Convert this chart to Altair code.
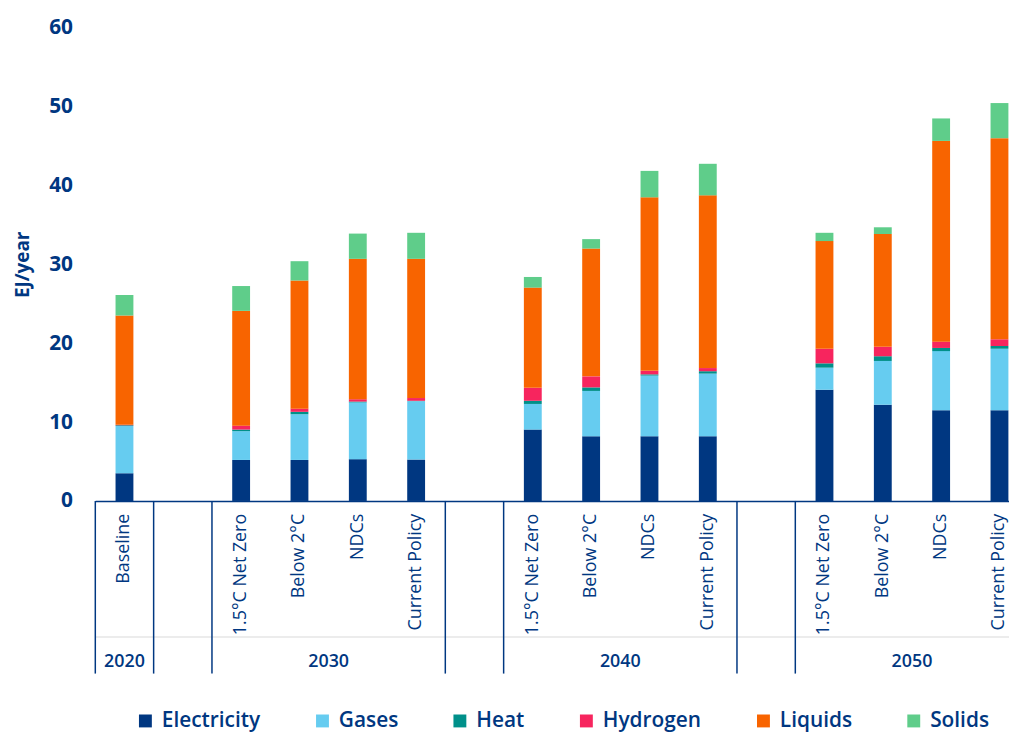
import altair as alt
import pandas as pd

# ---- data -----------------------------------------------------------------
years = ["2020", "2030", "2030", "2030", "2030", "2040", "2040", "2040", "2040",
         "2050", "2050", "2050", "2050"]
scenarios = ["Baseline",
             "1.5°C Net Zero", "Below 2°C", "NDCs", "Current Policy",
             "1.5°C Net Zero", "Below 2°C", "NDCs", "Current Policy",
             "1.5°C Net Zero", "Below 2°C", "NDCs", "Current Policy"]

electricity = [3.5, 5.2, 5.2, 5.3, 5.25, 9.05, 8.2, 8.2, 8.2, 14.1, 12.2, 11.5, 11.5]
gases       = [6.0, 3.65, 5.8, 7.2, 7.4, 3.25, 5.75, 7.7, 7.95, 2.8, 5.55, 7.5, 7.8]
heat        = [0.1, 0.2, 0.3, 0.1, 0.05, 0.4, 0.45, 0.15, 0.3, 0.55, 0.6, 0.4, 0.35]
hydrogen    = [0.05, 0.5, 0.4, 0.3, 0.35, 1.65, 1.4, 0.45, 0.4, 1.85, 1.2, 0.8, 0.85]
liquids     = [13.85, 14.55, 16.25, 17.8, 17.65, 12.7, 16.2, 22.0, 21.9, 13.65, 14.3, 25.45, 25.5]
solids      = [2.6, 3.15, 2.45, 3.2, 3.3, 1.35, 1.2, 3.35, 4.0, 1.05, 0.85, 2.85, 4.45]

fuels = ["Electricity", "Gases", "Heat", "Hydrogen", "Liquids", "Solids"]
fuel_colors = ["#003781", "#66CCF0", "#00908A", "#F7255E", "#F86400", "#5FCD8A"]
series = [electricity, gases, heat, hydrogen, liquids, solids]

# slot order along the x axis (an empty slot between year groups)
keys = [f"{y}|{s}" for y, s in zip(years, scenarios)]
slot_order = [keys[0], "gap1"] + keys[1:5] + ["gap2"] + keys[5:9] + ["gap3"] + keys[9:13]
slot_center = {k: slot_order.index(k) + 0.5 for k in keys}

rows = []
for fi, (fuel, vals) in enumerate(zip(fuels, series)):
    for k, v in zip(keys, vals):
        rows.append({"slot": slot_center[k], "fuel": fuel, "value": v, "order": fi})
df = pd.DataFrame(rows)

cat_df = pd.DataFrame({"slot": [slot_center[k] for k in keys], "scenario": scenarios})

# separators at the left edge of each group / gap slot
sep_keys = [keys[0], "gap1", keys[1], "gap2", keys[5], "gap3", keys[9]]
sep_df = pd.DataFrame({"slot": [float(slot_order.index(k)) for k in sep_keys]})

group_names = ["2020", "2030", "2040", "2050"]
grp_df = pd.DataFrame({
    "label": group_names,
    "slot": [sum(slot_center[k] for k, y in zip(keys, years) if y == g) /
             sum(1 for y in years if y == g) for g in group_names],
})

BLUE = "#003781"
FONT = "Open Sans"
W, H = 921, 477
SLOT_PX = 58.8

xscale = alt.Scale(domain=[0, W / SLOT_PX], nice=False, zero=False, padding=0)

bars = alt.Chart(df).mark_bar(size=18).encode(
    x=alt.X("slot:Q", scale=xscale,
            axis=alt.Axis(title=None, labels=False, ticks=False, grid=False,
                          domainColor=BLUE, domainWidth=1.5)),
    y=alt.Y("value:Q", stack="zero",
            scale=alt.Scale(domain=[0, 60], nice=False),
            axis=alt.Axis(title="EJ/year", values=[0, 10, 20, 30, 40, 50, 60],
                          grid=False, domain=False, ticks=False,
                          labelPadding=23, labelColor=BLUE, labelFont=FONT,
                          labelFontSize=21, labelFontWeight="bold",
                          titleColor=BLUE, titleFont=FONT, titleFontSize=19,
                          titleFontWeight="bold", titleAngle=270,
                          titleX=-73, titleY=H / 2, titleAlign="center",
                          titleBaseline="middle")),
    color=alt.Color("fuel:N", scale=alt.Scale(domain=fuels, range=fuel_colors),
                    legend=alt.Legend(title=None, orient="none", direction="horizontal",
                                      legendX=40, legendY=688, symbolType="square",
                                      symbolSize=169, symbolStrokeWidth=0,
                                      labelFont=FONT, labelFontSize=21,
                                      labelFontWeight=600, labelColor=BLUE,
                                      labelOffset=6, columnPadding=51.5, padding=0)),
    order=alt.Order("order:Q"),
)

cat_labels = alt.Chart(cat_df).mark_text(
    angle=270, align="right", baseline="middle", color=BLUE, font=FONT,
    fontSize=18, fontWeight=500,
).encode(x=alt.X("slot:Q", scale=xscale), y=alt.value(H + 13), text="scenario:N")

seps = alt.Chart(sep_df).mark_rule(color=BLUE, strokeWidth=1.5).encode(
    x=alt.X("slot:Q", scale=xscale),
    y=alt.value(H), y2=alt.value(H + 174),
)

faint = alt.Chart(sep_df).mark_rule(color="#ececec", strokeWidth=1).encode(
    x=alt.value(0), x2=alt.value(W), y=alt.value(H + 137),
)

groups = alt.Chart(grp_df).mark_text(color=BLUE, font=FONT, fontSize=18,
                                     fontWeight=600, baseline="middle").encode(
    x=alt.X("slot:Q", scale=xscale),
    y=alt.value(H + 162), text="label:N",
)

chart = alt.layer(faint, bars, cat_labels, seps, groups).properties(
    width=W, height=H,
    autosize=alt.AutoSizeParams(type="none"),
    padding={"left": 88, "top": 17, "right": 0, "bottom": 231},
).configure_view(stroke=None)

chart.save("out.html", embed_options={"renderer": "svg", "actions": False})
